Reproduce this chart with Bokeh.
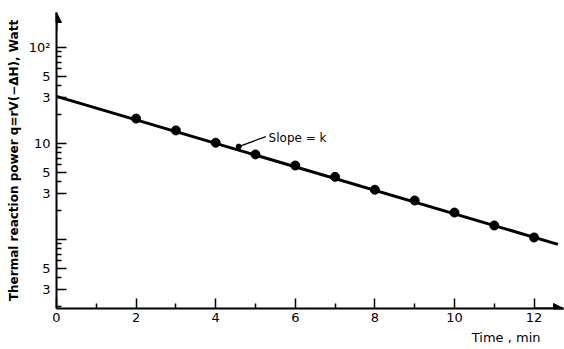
from bokeh.plotting import figure
from bokeh.models import Range1d, FixedTicker, Arrow, NormalHead, Label, Title
from bokeh.embed import file_html
from bokeh.resources import INLINE

# ---- data ----
time_min = [2, 3, 4, 5, 6, 7, 8, 9, 10, 11, 12]
power_w = [18.2, 13.7, 10.2, 7.7, 5.9, 4.5, 3.3, 2.55, 1.91, 1.40, 1.05]
fit_x = [0, 12.6]
fit_y = [31.0, 0.89]

x_major = [0, 2, 4, 6, 8, 10, 12]
x_minor = [1, 3, 5, 7, 9, 11]
y_major = [0.3, 0.5, 1, 3, 5, 10, 30, 50, 100]
y_major_labels = ["3", "5", "", "3", "5", "10", "3", "5", "10²"]
y_minor = [0.2, 0.4, 0.6, 0.7, 0.8, 0.9, 2, 4, 6, 7, 8, 9, 20, 40, 60, 70, 80, 90]

y_title = "Thermal reaction power q=rV(−ΔH), Watt"
x_title = "Time , min"
slope_text = "Slope = k"
slope_leader = dict(x0=4.58, y0=9.3, x1=5.26, y1=11.8)
slope_text_pos = (5.33, 11.3)

x_range = (0, 12.74)
y_range = (0.191, 232)

FONT = "DejaVu Sans"

p = figure(width=564, height=349, output_backend="svg", toolbar_location=None,
           y_axis_type="log",
           x_range=Range1d(*x_range), y_range=Range1d(*y_range),
           min_border_left=56, min_border_right=1, min_border_top=12, min_border_bottom=41)
p.outline_line_color = None
p.xgrid.visible = False
p.ygrid.visible = False
p.background_fill_color = "white"
p.border_fill_color = "white"

# axes
xa = p.xaxis[0]
xa.ticker = FixedTicker(ticks=x_major, minor_ticks=x_minor)
xa.axis_line_width = 2
xa.major_tick_in = 10
xa.major_tick_out = 0
xa.minor_tick_in = 5
xa.minor_tick_out = 0
xa.major_tick_line_width = 1.5
xa.minor_tick_line_width = 1.5
xa.major_label_text_font = FONT
xa.major_label_text_font_size = "13px"
xa.major_label_text_color = "black"
xa.major_label_standoff = 4

ya = p.yaxis[0]
ya.ticker = FixedTicker(ticks=y_major, minor_ticks=y_minor)
ya.major_label_overrides = {v: lab for v, lab in zip(y_major, y_major_labels)}
ya.axis_line_width = 2
ya.major_tick_in = 10
ya.major_tick_out = 0
ya.minor_tick_in = 5
ya.minor_tick_out = 0
ya.major_tick_line_width = 1.5
ya.minor_tick_line_width = 1.5
ya.major_label_text_font = FONT
ya.major_label_text_font_size = "13px"
ya.major_label_text_color = "black"
ya.major_label_standoff = 6
ya.axis_label = y_title
ya.axis_label_text_font = FONT
ya.axis_label_text_font_style = "bold"
ya.axis_label_text_font_size = "12px"
ya.axis_label_text_color = "black"
ya.axis_label_standoff = 5

# x title at bottom right
p.add_layout(Title(text=x_title, align="right", offset=23, standoff=6,
                   text_font=FONT, text_font_style="normal", text_font_size="13px",
                   text_color="black"), "below")

# arrows at axis ends
p.add_layout(Arrow(end=NormalHead(size=10, fill_color="black", line_color="black"),
                   x_start=0, y_start=150, x_end=0, y_end=y_range[1],
                   line_width=2, line_color="black"))
p.add_layout(Arrow(end=NormalHead(size=10, fill_color="black", line_color="black"),
                   x_start=12.0, y_start=y_range[0], x_end=x_range[1], y_end=y_range[0],
                   line_width=2, line_color="black"))

# fit line and points
p.line(fit_x, fit_y, line_width=3, line_color="black")
p.scatter(time_min, power_w, size=9, fill_color="black", line_color="black")

# slope annotation
p.segment(x0=[slope_leader["x0"]], y0=[slope_leader["y0"]],
          x1=[slope_leader["x1"]], y1=[slope_leader["y1"]], line_width=1.2, line_color="black")
p.scatter([slope_leader["x0"]], [slope_leader["y0"]], size=5, fill_color="black", line_color="black")
p.add_layout(Label(x=slope_text_pos[0], y=slope_text_pos[1], text=slope_text,
                   text_font=FONT, text_font_size="12px", text_baseline="middle",
                   text_color="black"))

open("out.html", "w").write(file_html(p, INLINE))
